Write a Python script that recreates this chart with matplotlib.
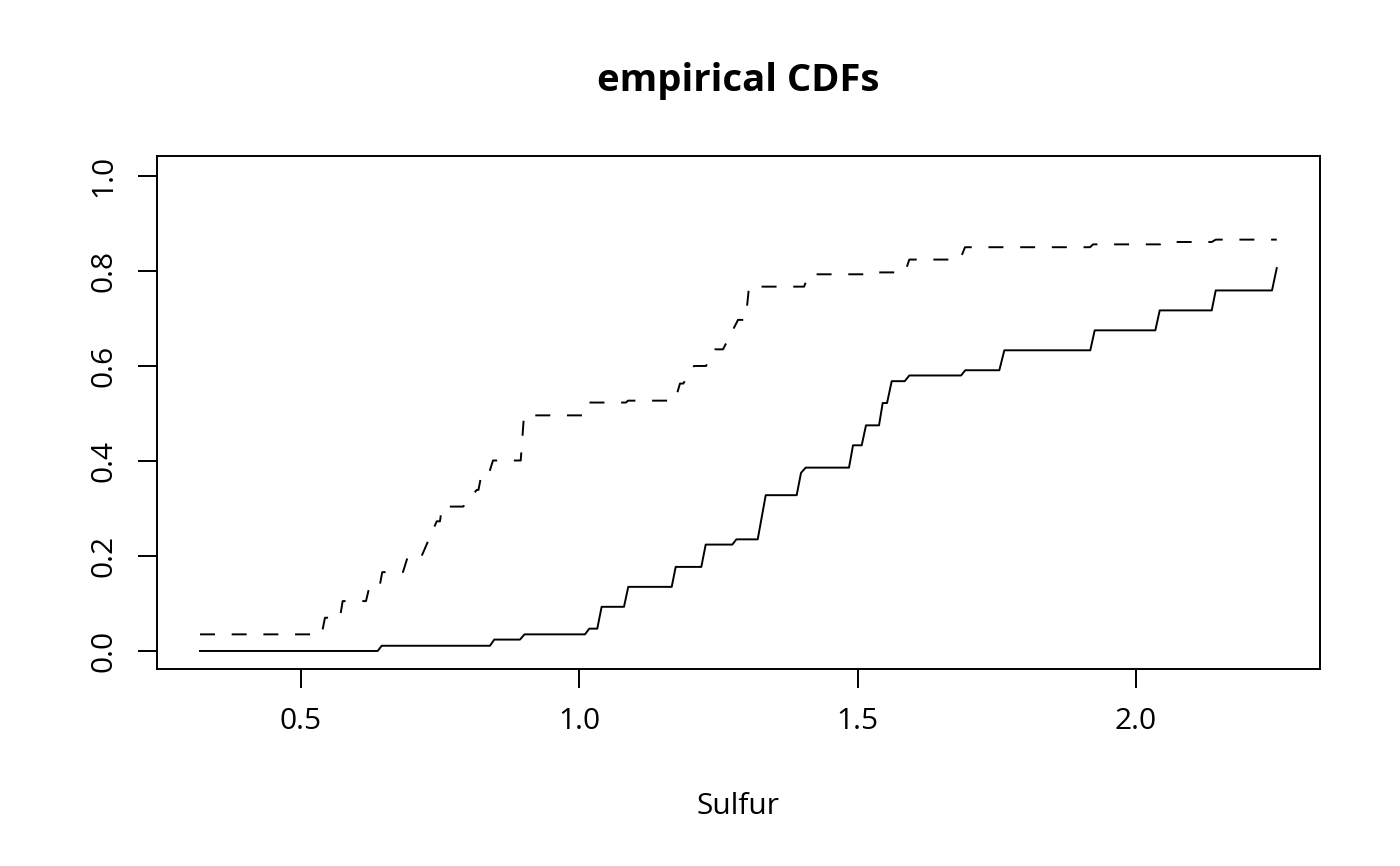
import matplotlib
matplotlib.use('Agg')
import matplotlib.pyplot as plt

plt.rcParams['font.family'] = ['Open Sans', 'DejaVu Sans']

# corner points of the two curves (x, F(x))
solid_x = [0.3186, 0.6378, 0.6450, 0.8395, 0.8472, 0.8934, 0.9015, 1.0101, 1.0179,
           1.0322, 1.0401, 1.0802, 1.0879, 1.1659, 1.1731, 1.2191, 1.2270, 1.2748,
           1.2820, 1.3204, 1.3348, 1.3904, 1.3982, 1.4066, 1.4844, 1.4916, 1.5072,
           1.5149, 1.5383, 1.5449, 1.5527, 1.5611, 1.5845, 1.5927, 1.6856, 1.6933,
           1.7544, 1.7634, 1.9178, 1.9257, 2.0346, 2.0425, 2.1359, 2.1431, 2.2442,
           2.2527]
solid_y = [0.000, 0.000, 0.011, 0.011, 0.024, 0.024, 0.035, 0.035, 0.047,
           0.047, 0.093, 0.093, 0.135, 0.135, 0.177, 0.177, 0.224, 0.224,
           0.235, 0.235, 0.328, 0.328, 0.375, 0.386, 0.386, 0.433, 0.433,
           0.475, 0.475, 0.522, 0.522, 0.568, 0.568, 0.580, 0.580, 0.591,
           0.591, 0.633, 0.633, 0.675, 0.675, 0.717, 0.717, 0.759, 0.759,
           0.806]

dashed_x = [0.3186, 0.5372, 0.5431, 0.5701, 0.5749, 0.6168, 0.6239, 0.6419, 0.6460,
            0.6832, 0.6922, 0.7168, 0.7438, 0.7497, 0.7533, 0.7915, 0.8156, 0.8188,
            0.8246, 0.8377, 0.8449, 0.8947, 0.9006, 1.0101, 1.0179, 1.0838, 1.0874,
            1.1718, 1.1808, 1.1867, 1.2060, 1.2275, 1.2437, 1.2581, 1.2850, 1.2988,
            1.3048, 1.4036, 1.4125, 1.5113, 1.5149, 1.5850, 1.5927, 1.6838, 1.6928,
            1.9173, 1.9227, 2.0431, 2.0485, 2.1359, 2.1431, 2.2527]
dashed_y = [0.035, 0.035, 0.070, 0.070, 0.105, 0.105, 0.140, 0.140, 0.166,
            0.166, 0.200, 0.200, 0.273, 0.273, 0.304, 0.304, 0.339, 0.339,
            0.374, 0.374, 0.401, 0.401, 0.496, 0.496, 0.523, 0.523, 0.527,
            0.527, 0.563, 0.563, 0.600, 0.600, 0.635, 0.635, 0.697, 0.697,
            0.767, 0.767, 0.793, 0.793, 0.797, 0.797, 0.824, 0.824, 0.850,
            0.850, 0.856, 0.856, 0.861, 0.861, 0.866, 0.866]

x_ticks = [0.5, 1.0, 1.5, 2.0]
y_ticks = [0.0, 0.2, 0.4, 0.6, 0.8, 1.0]


def plot_cdfs():
    fig = plt.figure(figsize=(14, 8.66), dpi=100)
    ax = fig.add_axes([0.1121, 0.2275, 0.8308, 0.5924])

    ax.plot(solid_x, solid_y, color='black', lw=1.4)
    ax.plot(dashed_x, dashed_y, color='black', lw=1.4, linestyle=(0, (7.7, 8.6)))

    ax.set_xlim(0.2413, 2.3305)
    ax.set_ylim(-0.0379, 1.0421)

    ax.set_xticks(x_ticks)
    ax.set_xticklabels(['%.1f' % v for v in x_ticks])
    ax.set_yticks(y_ticks)
    ax.set_yticklabels(['%.1f' % v for v in y_ticks], rotation=90, va='center')

    for s in ax.spines.values():
        s.set_linewidth(1.4)
    ax.tick_params(direction='out', length=13.7, width=1.4, labelsize=21.5, pad=14)

    ax.set_xlabel('Sulfur', fontsize=21.5, labelpad=40)
    ax.set_title('empirical CDFs', fontsize=27.5, fontweight='bold', pad=47)

    fig.savefig('out.png', dpi=100)


if __name__ == '__main__':
    plot_cdfs()
